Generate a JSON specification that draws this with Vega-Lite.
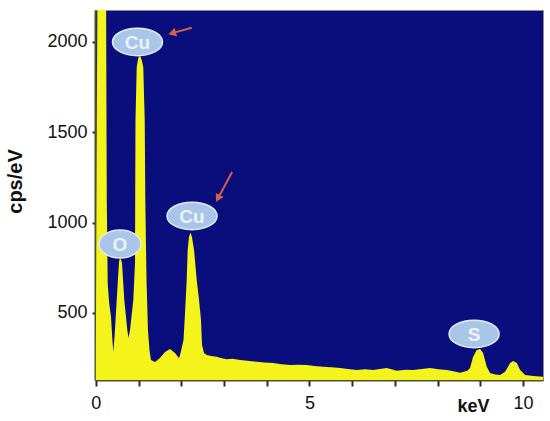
{
  "$schema": "https://vega.github.io/schema/vega-lite/v6.json",
  "width": 448,
  "height": 370,
  "autosize": "none",
  "padding": {"left": 95, "top": 10, "right": 7, "bottom": 41},
  "background": "white",
  "config": {
    "view": {"fill": "#0a0e7c", "stroke": "#8c8c8c", "strokeWidth": 1},
    "font": "Liberation Sans"
  },
  "datasets": {
    "spectrum": [
      {"keV": 0.0, "cps": 260}, {"keV": 0.02, "cps": 1500}, {"keV": 0.045, "cps": 2600},
      {"keV": 0.235, "cps": 2600}, {"keV": 0.25, "cps": 1500}, {"keV": 0.256, "cps": 1125},
      {"keV": 0.277, "cps": 666}, {"keV": 0.31, "cps": 560}, {"keV": 0.355, "cps": 478},
      {"keV": 0.385, "cps": 360}, {"keV": 0.409, "cps": 284}, {"keV": 0.44, "cps": 380},
      {"keV": 0.465, "cps": 478}, {"keV": 0.512, "cps": 666}, {"keV": 0.542, "cps": 782},
      {"keV": 0.565, "cps": 806}, {"keV": 0.59, "cps": 795}, {"keV": 0.612, "cps": 777},
      {"keV": 0.666, "cps": 572}, {"keV": 0.736, "cps": 406}, {"keV": 0.765, "cps": 362},
      {"keV": 0.8, "cps": 406}, {"keV": 0.877, "cps": 572}, {"keV": 0.917, "cps": 777},
      {"keV": 0.921, "cps": 1125}, {"keV": 0.928, "cps": 1568}, {"keV": 0.957, "cps": 1862},
      {"keV": 0.994, "cps": 1911}, {"keV": 1.034, "cps": 1925}, {"keV": 1.074, "cps": 1900},
      {"keV": 1.11, "cps": 1862}, {"keV": 1.144, "cps": 1568}, {"keV": 1.158, "cps": 1125},
      {"keV": 1.186, "cps": 683}, {"keV": 1.22, "cps": 406}, {"keV": 1.256, "cps": 295},
      {"keV": 1.29, "cps": 240}, {"keV": 1.385, "cps": 229}, {"keV": 1.5, "cps": 251},
      {"keV": 1.62, "cps": 284}, {"keV": 1.736, "cps": 301}, {"keV": 1.853, "cps": 279},
      {"keV": 1.95, "cps": 250}, {"keV": 1.994, "cps": 290}, {"keV": 2.052, "cps": 350},
      {"keV": 2.088, "cps": 500}, {"keV": 2.127, "cps": 683}, {"keV": 2.15, "cps": 849},
      {"keV": 2.18, "cps": 921}, {"keV": 2.216, "cps": 945}, {"keV": 2.25, "cps": 921},
      {"keV": 2.299, "cps": 849}, {"keV": 2.362, "cps": 683}, {"keV": 2.416, "cps": 572},
      {"keV": 2.462, "cps": 461}, {"keV": 2.486, "cps": 323}, {"keV": 2.533, "cps": 279},
      {"keV": 2.596, "cps": 267}, {"keV": 2.7, "cps": 262}, {"keV": 2.83, "cps": 258},
      {"keV": 2.95, "cps": 250}, {"keV": 3.064, "cps": 244}, {"keV": 3.2, "cps": 246},
      {"keV": 3.376, "cps": 240}, {"keV": 3.55, "cps": 236}, {"keV": 3.767, "cps": 230},
      {"keV": 3.95, "cps": 226}, {"keV": 4.149, "cps": 223}, {"keV": 4.35, "cps": 216},
      {"keV": 4.547, "cps": 212}, {"keV": 4.75, "cps": 214}, {"keV": 4.938, "cps": 212},
      {"keV": 5.12, "cps": 207}, {"keV": 5.32, "cps": 203}, {"keV": 5.52, "cps": 199},
      {"keV": 5.718, "cps": 195}, {"keV": 5.9, "cps": 190}, {"keV": 6.109, "cps": 184},
      {"keV": 6.3, "cps": 188}, {"keV": 6.49, "cps": 184}, {"keV": 6.65, "cps": 190},
      {"keV": 6.811, "cps": 195}, {"keV": 7.046, "cps": 180}, {"keV": 7.25, "cps": 186},
      {"keV": 7.427, "cps": 184}, {"keV": 7.63, "cps": 190}, {"keV": 7.825, "cps": 195},
      {"keV": 8.02, "cps": 188}, {"keV": 8.216, "cps": 184}, {"keV": 8.4, "cps": 176},
      {"keV": 8.528, "cps": 169}, {"keV": 8.7, "cps": 180}, {"keV": 8.762, "cps": 195},
      {"keV": 8.832, "cps": 256}, {"keV": 8.919, "cps": 295}, {"keV": 8.996, "cps": 301},
      {"keV": 9.067, "cps": 278}, {"keV": 9.153, "cps": 203}, {"keV": 9.23, "cps": 168},
      {"keV": 9.35, "cps": 160}, {"keV": 9.465, "cps": 157}, {"keV": 9.582, "cps": 175},
      {"keV": 9.7, "cps": 223}, {"keV": 9.77, "cps": 234}, {"keV": 9.856, "cps": 223},
      {"keV": 9.934, "cps": 184}, {"keV": 10.05, "cps": 157}, {"keV": 10.24, "cps": 151},
      {"keV": 10.47, "cps": 147}
    ],
    "labels": [
      {"keV": 0.975, "cps": 2000, "label": "Cu"},
      {"keV": 2.252, "cps": 1037, "label": "Cu"},
      {"keV": 0.565, "cps": 882, "label": "O"},
      {"keV": 8.856, "cps": 384, "label": "S"}
    ],
    "arrows": [
      {"id": 1, "keV": 2.245, "cps": 2079, "keV2": 1.786, "cps2": 2049},
      {"id": 2, "keV": 3.19, "cps": 1280, "keV2": 2.858, "cps2": 1134}
    ],
    "heads": [
      {"id": 1, "keV": 1.786, "cps": 2049},
      {"id": 2, "keV": 2.858, "cps": 1134}
    ]
  },
  "encoding": {
    "x": {
      "field": "keV",
      "type": "quantitative",
      "title": "keV",
      "scale": {"domain": [-0.02, 10.47], "nice": false, "zero": false},
      "axis": {
        "values": [0, 0.5, 1, 1.5, 2, 2.5, 3, 3.5, 4, 4.5, 5, 5.5, 6, 6.5, 7, 7.5, 8, 8.5, 9, 9.5, 10],
        "format": "d",
        "labelExpr": "datum.value % 5 === 0 ? datum.label : ''",
        "grid": false,
        "domainColor": "#4f4f2a",
        "domainWidth": 2,
        "tickColor": "#2a2a2a",
        "tickWidth": 2,
        "tickSize": 6,
        "labelFont": "Liberation Sans",
        "labelFontSize": 18,
        "labelColor": "#111111",
        "labelPadding": 8,
        "labelFlush": false,
        "titleFont": "Liberation Sans",
        "titleFontSize": 18,
        "titleFontWeight": "bold",
        "titleColor": "#111111",
        "titleAlign": "center",
        "titleBaseline": "alphabetic",
        "titleX": 378,
        "titleY": 31
      }
    },
    "y": {
      "field": "cps",
      "type": "quantitative",
      "title": "cps/eV",
      "scale": {"domain": [129, 2177], "nice": false, "zero": false},
      "axis": {
        "values": [500, 1000, 1500, 2000],
        "format": "d",
        "grid": false,
        "domainColor": "#4f4f2a",
        "domainWidth": 2,
        "tickColor": "#2a2a2a",
        "tickWidth": 2,
        "tickSize": 3,
        "labelFont": "Liberation Sans",
        "labelFontSize": 18,
        "labelColor": "#111111",
        "labelPadding": 5,
        "titleFont": "Liberation Sans",
        "titleFontSize": 20,
        "titleFontWeight": "bold",
        "titleColor": "#111111",
        "titleAngle": -90,
        "titleAlign": "center",
        "titleBaseline": "alphabetic",
        "titleX": -74,
        "titleY": 171
      }
    }
  },
  "layer": [
    {
      "data": {"name": "spectrum"},
      "mark": {"type": "area", "color": "#f4f41c", "clip": true, "interpolate": "linear"}
    },
    {
      "data": {"name": "arrows"},
      "mark": {"type": "rule", "color": "#d4604c", "strokeWidth": 2},
      "encoding": {
        "x2": {"field": "keV2"},
        "y2": {"field": "cps2"}
      }
    },
    {
      "data": {"name": "heads"},
      "transform": [{"filter": "datum.id === 1"}],
      "mark": {"type": "point", "shape": "triangle-up", "filled": true, "color": "#d4604c", "size": 80, "angle": 254, "opacity": 1}
    },
    {
      "data": {"name": "heads"},
      "transform": [{"filter": "datum.id === 2"}],
      "mark": {"type": "point", "shape": "triangle-up", "filled": true, "color": "#d4604c", "size": 80, "angle": 208, "opacity": 1}
    },
    {
      "data": {"name": "labels"},
      "transform": [{"filter": "datum.label !== 'O'"}],
      "mark": {
        "type": "point",
        "shape": "M-1,0A1,0.55,0,1,1,1,0A1,0.55,0,1,1,-1,0Z",
        "filled": true,
        "fill": "#a9c5e8",
        "stroke": "#e2ecf8",
        "strokeWidth": 1.5,
        "size": 2500,
        "opacity": 1
      }
    },
    {
      "data": {"name": "labels"},
      "transform": [{"filter": "datum.label === 'O'"}],
      "mark": {
        "type": "point",
        "shape": "M-1,0A1,0.67,0,1,1,1,0A1,0.67,0,1,1,-1,0Z",
        "filled": true,
        "fill": "#a9c5e8",
        "stroke": "#e2ecf8",
        "strokeWidth": 1.5,
        "size": 1764,
        "opacity": 1
      }
    },
    {
      "data": {"name": "labels"},
      "mark": {
        "type": "text",
        "font": "Liberation Sans",
        "fontSize": 19,
        "fontWeight": "bold",
        "fill": "#eef3fb",
        "align": "center",
        "baseline": "middle",
        "dy": 1
      },
      "encoding": {"text": {"field": "label"}}
    }
  ]
}
